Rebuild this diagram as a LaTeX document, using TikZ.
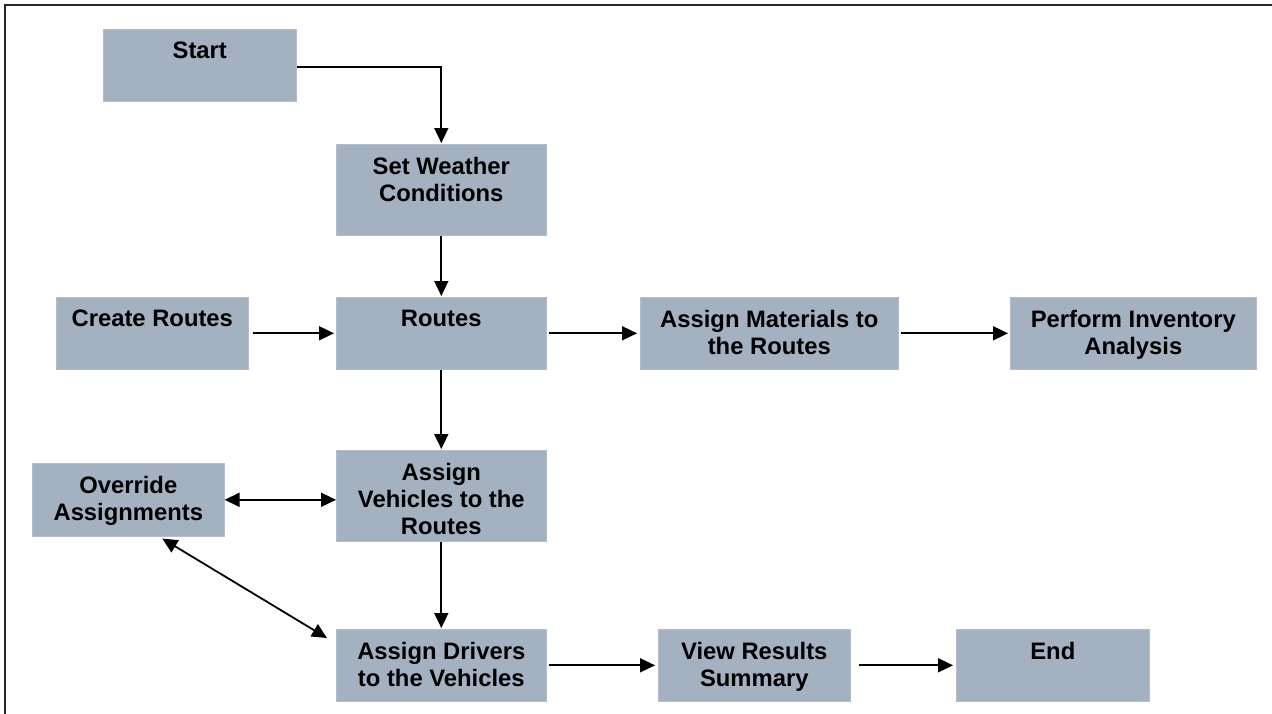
\documentclass[tikz,border=0pt]{standalone}
\usepackage{fontspec}
\setmainfont{Liberation Sans}
\usetikzlibrary{arrows.meta,calc}
\definecolor{boxfill}{RGB}{163,177,192}
\definecolor{boxedge}{RGB}{178,190,202}
\definecolor{framecol}{RGB}{40,40,40}
\tikzset{
  box/.style={rectangle, fill=boxfill, draw=boxedge, line width=0.6pt, inner sep=0pt, anchor=north west},
  txt/.style={anchor=north, inner sep=0pt, align=center, font=\fontsize{23.8}{27}\selectfont\bfseries},
  arr/.style={line width=1.8pt, -{Triangle[length=15pt,width=14pt]}},
  darr/.style={line width=1.8pt, {Triangle[length=15pt,width=14pt]}-{Triangle[length=15pt,width=14pt]}},
}
\begin{document}
\begin{tikzpicture}[x=1pt,y=-1pt]
\useasboundingbox (0,0) rectangle (1272,713);
\draw[framecol, line width=2pt] (5,716) -- (5,5) -- (1275,5);
% boxes
\node[box, minimum width=193pt, minimum height=72pt] (start) at (103,29) {};
\node[box, minimum width=210pt, minimum height=91pt] (sw) at (336,144) {};
\node[box, minimum width=192pt, minimum height=72pt] (create) at (56,297) {};
\node[box, minimum width=210pt, minimum height=72pt] (routes) at (336,297) {};
\node[box, minimum width=258pt, minimum height=72pt] (mat) at (640,297) {};
\node[box, minimum width=246pt, minimum height=72pt] (perf) at (1010,297) {};
\node[box, minimum width=192pt, minimum height=73pt] (over) at (32,463) {};
\node[box, minimum width=210pt, minimum height=91pt] (veh) at (336,450) {};
\node[box, minimum width=210pt, minimum height=72pt] (drv) at (336,629) {};
\node[box, minimum width=192pt, minimum height=72pt] (view) at (658,629) {};
\node[box, minimum width=193pt, minimum height=72pt] (endb) at (956,629) {};
% texts
\node[txt] (startT) at ([yshift=-13pt]start.north) {Start};
\node[txt] (swT) at ([yshift=-13pt]sw.north) {Set Weather\\Conditions};
\node[txt] (createT) at ([yshift=-13pt]create.north) {Create Routes};
\node[txt] (routesT) at ([yshift=-13pt]routes.north) {Routes};
\node[txt] (matT) at ([yshift=-13pt]mat.north) {Assign Materials to\\the Routes};
\node[txt] (perfT) at ([yshift=-13pt]perf.north) {Perform Inventory\\Analysis};
\node[txt] (overT) at ([yshift=-13pt]over.north) {Override\\Assignments};
\node[txt] (vehT) at ([yshift=-13pt]veh.north) {Assign\\Vehicles to the\\Routes};
\node[txt] (drvT) at ([yshift=-13pt]drv.north) {Assign Drivers\\to the Vehicles};
\node[txt] (viewT) at ([yshift=-13pt]view.north) {View Results\\Summary};
\node[txt] (endT) at ([yshift=-13pt]endb.north) {End};
% connectors
\coordinate (sbend) at ($(start.east)+(0,2)$);
\draw[arr] (sbend) -- (sbend -| sw.north) -- ([yshift=1pt]sw.north);
\draw[arr] (sw.south) -- ([yshift=1pt]routes.north);
\draw[arr, shorten <=4pt, shorten >=2pt] (create.east) -- (routes.west);
\draw[arr, shorten <=2pt, shorten >=3pt] (routes.east) -- (mat.west);
\draw[arr, shorten <=2pt, shorten >=2pt] (mat.east) -- (perf.west);
\draw[arr] (routes.south) -- ([yshift=1pt]veh.north);
\draw[darr] (over.east) -- (over.east -| veh.west);
\draw[darr] ([xshift=34pt,yshift=-2pt]over.south) -- ([xshift=-9pt,yshift=-9pt]drv.north west);
\draw[arr] (veh.south) -- ([yshift=1pt]drv.north);
\draw[arr, shorten <=2pt, shorten >=3pt] (drv.east) -- (view.west);
\draw[arr, shorten <=8pt, shorten >=3pt] (view.east) -- (endb.west);
\end{tikzpicture}
\end{document}
